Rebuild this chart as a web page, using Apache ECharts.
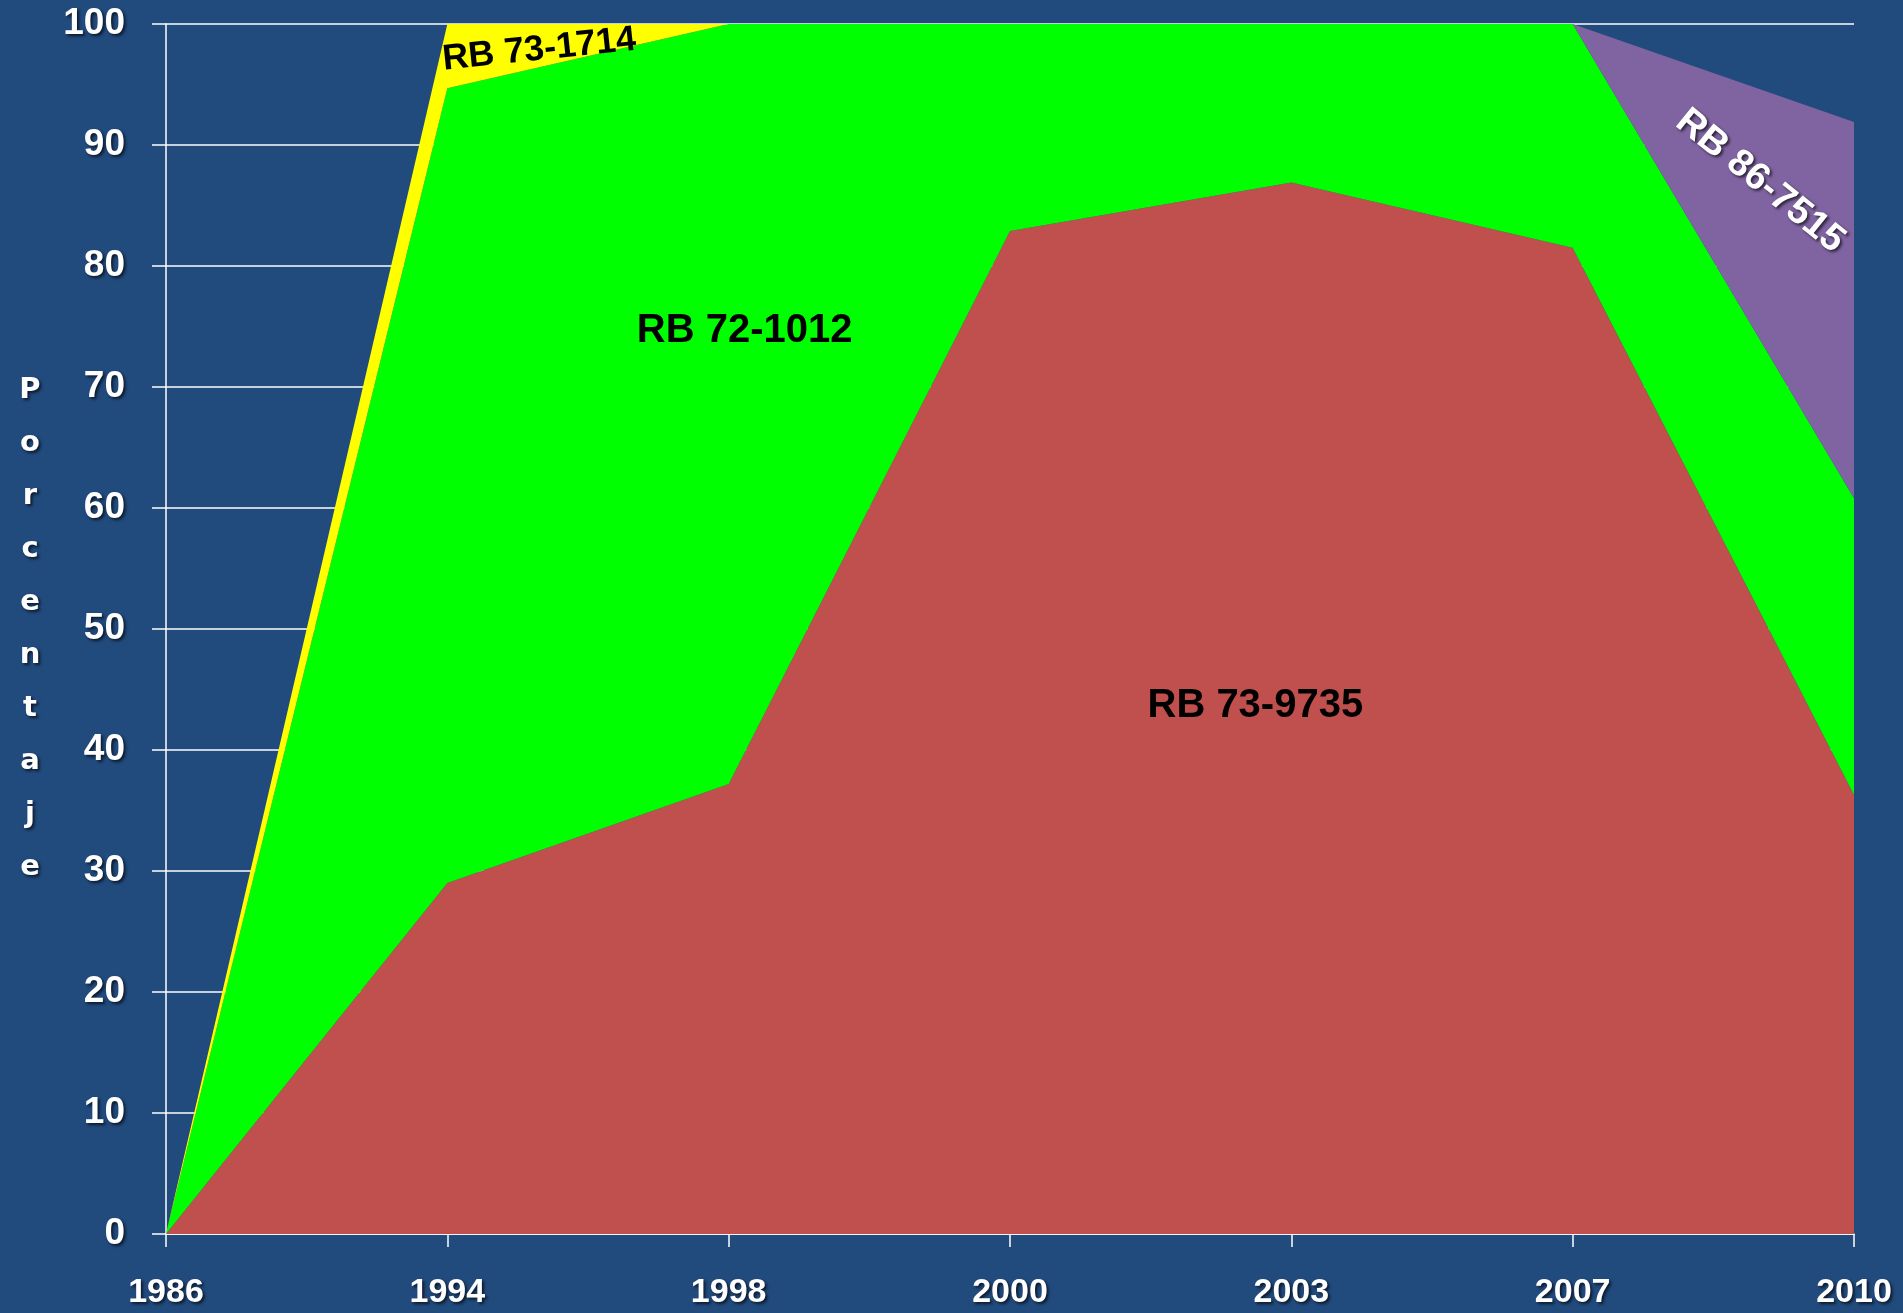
<!DOCTYPE html>
<html>
<head>
<meta charset="utf-8">
<script src="https://cdn.jsdelivr.net/npm/echarts@6/dist/echarts.min.js"></script>
<style>
  html, body { margin: 0; padding: 0; background: #214A7D; }
  #chart { width: 1903px; height: 1313px; }
</style>
</head>
<body>
<div id="chart"></div>
<script>
// years on the x axis
const years = ['1986', '1994', '1998', '2000', '2003', '2007', '2010'];
// stacked percentages per variety
const rb739735 = [0, 29.0, 37.2, 82.9, 86.9, 81.5, 36.3];
const rb721012 = [0, 65.7, 62.8, 17.1, 13.1, 18.5, 24.5];
const rb731714 = [0, 5.3, 0, 0, 0, 0, 0];
const rb867515 = [0, 0, 0, 0, 0, 0, 31.1];
const axisTitle = 'Porcentaje';

const shadow = {
  textShadowColor: 'rgba(0,0,0,0.65)',
  textShadowBlur: 3,
  textShadowOffsetX: 2,
  textShadowOffsetY: 2
};

function tag(name, coord, opts) {
  return {
    coord: coord,
    symbolSize: 0,
    label: Object.assign({
      show: true,
      formatter: name,
      position: 'inside',
      fontFamily: 'Liberation Sans, Arial, sans-serif',
      fontWeight: 'bold',
      fontSize: 40,
      color: '#000'
    }, opts)
  };
}

function area(name, data, color, marks) {
  return {
    name: name,
    type: 'line',
    stack: 'total',
    data: data,
    symbol: 'none',
    lineStyle: { width: 0 },
    areaStyle: { color: color, opacity: 1 },
    itemStyle: { color: color },
    markPoint: { symbol: 'circle', silent: true, data: marks }
  };
}

const chart = echarts.init(document.getElementById('chart'));
chart.setOption({
  animation: false,
  backgroundColor: '#214A7D',
  grid: { left: 166, right: 49, top: 24, bottom: 79 },
  xAxis: {
    type: 'category',
    data: years,
    boundaryGap: false,
    axisLine: { lineStyle: { color: '#ffffff', width: 1.5 } },
    axisTick: { show: true, length: 13, lineStyle: { color: '#ffffff', width: 1.5 } },
    axisLabel: Object.assign({
      color: '#ffffff',
      fontFamily: 'Liberation Sans, Arial, sans-serif',
      fontWeight: 'bold',
      fontSize: 34,
      margin: 42
    }, shadow)
  },
  yAxis: {
    type: 'value',
    min: 0,
    max: 100,
    interval: 10,
    name: axisTitle.split('').join('\n'),
    nameLocation: 'middle',
    nameRotate: 0,
    nameGap: 136,
    nameTextStyle: Object.assign({
      color: '#ffffff',
      fontFamily: 'DejaVu Sans, sans-serif',
      fontWeight: 'bold',
      fontSize: 29,
      lineHeight: 53,
      align: 'center',
      verticalAlign: 'middle'
    }, shadow),
    axisLine: { show: true, lineStyle: { color: '#ffffff', width: 1.5 } },
    axisTick: { show: true, length: 14, lineStyle: { color: '#ffffff', width: 1.5 } },
    splitLine: { lineStyle: { color: '#ffffff', width: 1.5 } },
    axisLabel: Object.assign({
      color: '#ffffff',
      fontFamily: 'Liberation Sans, Arial, sans-serif',
      fontWeight: 'bold',
      fontSize: 37,
      margin: 41
    }, shadow)
  },
  series: [
    area('RB 73-9735', rb739735, '#C0504D', [tag('RB 73-9735', ['2003', 43.6], { offset: [-36, 0] })]),
    area('RB 72-1012', rb721012, '#00FF00', [tag('RB 72-1012', ['1998', 74.6], { offset: [16, 0] })]),
    area('RB 73-1714', rb731714, '#FFFF00', [tag('RB 73-1714', ['1994', 97.4], { offset: [92, 4], rotate: 6, fontSize: 36 })]),
    area('RB 86-7515', rb867515, '#8064A2', [tag('RB 86-7515', ['2010', 87], Object.assign({ offset: [-73, 59], rotate: -39, fontSize: 38, color: '#ffffff' }, shadow))])
  ]
});
</script>
</body>
</html>
